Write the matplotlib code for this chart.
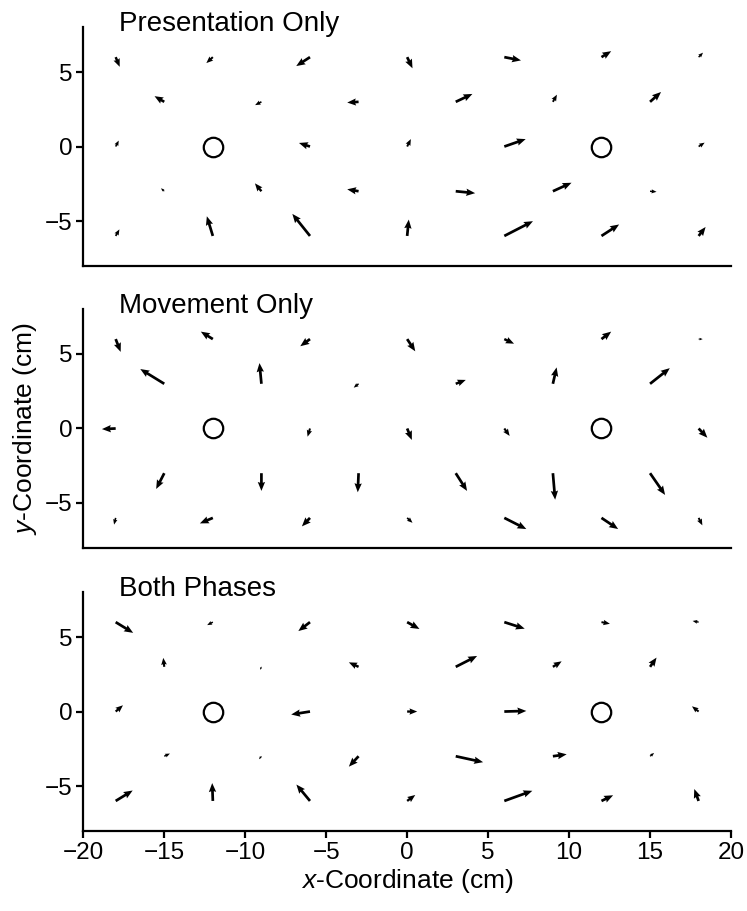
import numpy as np
import matplotlib
matplotlib.use("Agg")
import matplotlib.pyplot as plt

plt.rcParams['font.family'] = ['Liberation Sans', 'DejaVu Sans']
plt.rcParams['mathtext.fontset'] = 'custom'
plt.rcParams['mathtext.rm'] = 'Liberation Sans'
plt.rcParams['mathtext.it'] = 'Liberation Sans:italic'

# grid of target locations (row by row, top to bottom)
grid_x = [-18, -12, -6, 0, 6, 12, 18,
          -15, -9, -3, 3, 9, 15,
          -18, -6, 0, 6, 18,
          -15, -9, -3, 3, 9, 15,
          -18, -12, -6, 0, 6, 12, 18]
grid_y = [6]*7 + [3]*6 + [0]*5 + [-3]*6 + [-6]*7

# error vectors (cm)
pres_u = [0.25, -0.4, -0.85, 0.33, 1.03, 0.6, 0.27,
          -0.6, -0.39, -0.7, 1.03, 0.25, 0.68,
          0.19, -0.68, 0.23, 1.32, 0.37,
          -0.2, -0.4, -0.7, 1.2, 1.15, 0.4,
          0.23, -0.37, -1.09, 0.1, 1.77, 1.09, 0.43]
pres_v = [-0.65, -0.4, -0.6, -0.75, -0.22, 0.4, 0.3,
          0.38, -0.22, -0.05, 0.53, 0.48, 0.66,
          0.4, 0.24, 0.5, 0.5, 0.26,
          0.2, 0.53, 0.13, -0.13, 0.57, -0.04,
          0.44, 1.32, 1.48, 1.1, 0.99, 0.77, 0.6]

move_u = [0.31, -0.74, -0.6, 0.5, 0.6, 0.6, 0.25,
          -1.48, -0.12, -0.3, 0.62, 0.23, 1.22,
          -0.85, -0.15, 0.29, 0.33, 0.54,
          -0.5, 0.0, -0.05, 0.7, 0.14, 0.93,
          -0.1, -0.8, -0.5, 0.33, 1.36, 1.03, 0.23]
move_v = [-0.86, 0.5, -0.48, -0.82, -0.31, 0.5, 0.0,
          0.99, 1.39, -0.26, 0.26, 1.1, 1.05,
          -0.04, -0.55, -0.77, -0.5, -0.62,
          -1.06, -1.19, -1.28, -1.19, -1.78, -1.46,
          -0.45, -0.37, -0.57, -0.33, -0.75, -0.75, -0.5]

both_u = [1.08, -0.35, -0.72, 0.76, 1.26, 0.52, -0.37,
          -0.06, -0.08, -0.6, 1.32, 0.54, 0.4,
          0.45, -1.16, 0.62, 1.36, -0.41,
          0.35, -0.15, -0.6, 1.69, 0.85, 0.25,
          1.05, -0.04, -0.84, 0.5, 1.73, 0.72, -0.27]
both_v = [-0.72, -0.2, -0.6, -0.46, -0.44, -0.11, 0.08,
          0.6, -0.2, 0.3, 0.73, 0.37, 0.62,
          0.42, -0.2, 0.0, 0.04, 0.35,
          0.18, -0.2, -0.7, -0.4, 0.13, 0.22,
          0.7, 1.2, 1.1, 0.4, 0.68, 0.38, 0.8]

targets_x = [-12, 12]
targets_y = [0, 0]

titles = ["Presentation Only", "Movement Only", "Both Phases"]
panels = [(pres_u, pres_v), (move_u, move_v), (both_u, both_v)]

fig = plt.figure(figsize=(7.47, 9.11), dpi=100)
left, width, height = 0.1115, 0.8671, 0.2617
bottoms = [0.7083, 0.3988, 0.0881]

for i, (u, v) in enumerate(panels):
    ax = fig.add_axes([left, bottoms[i], width, height])
    ax.quiver(grid_x, grid_y, u, v, angles='xy', scale_units='xy', scale=1,
              color='black', width=0.0042, headwidth=2.7, headlength=3.3,
              headaxislength=3.0, minshaft=1.3, minlength=0.5)
    ax.plot(targets_x, targets_y, 'o', ms=14, mfc='none', mec='black', mew=1.6)
    ax.set_xlim(-20, 20)
    ax.set_ylim(-8, 8)
    ax.set_yticks([-5, 0, 5])
    ax.set_yticklabels(['\u22125', '0', '5'])
    for s in ['top', 'right']:
        ax.spines[s].set_visible(False)
    for s in ['left', 'bottom']:
        ax.spines[s].set_linewidth(1.6)
    ax.tick_params(labelsize=17.5, width=1.6, length=5, pad=3)
    ax.text(-17.8, 7.75, titles[i], fontsize=20, ha='left', va='baseline')
    if i < 2:
        ax.set_xticks([])
    else:
        ax.set_xticks(np.arange(-20, 21, 5))
        ax.set_xticklabels([str(t).replace('-', '\u2212') for t in range(-20, 21, 5)])
        ax.set_xlabel('$\\it{x}$-Coordinate (cm)', fontsize=19, labelpad=2)
    if i == 1:
        ax.set_ylabel('$\\it{y}$-Coordinate (cm)', fontsize=19, labelpad=4)

fig.savefig('out.png', dpi=100)
